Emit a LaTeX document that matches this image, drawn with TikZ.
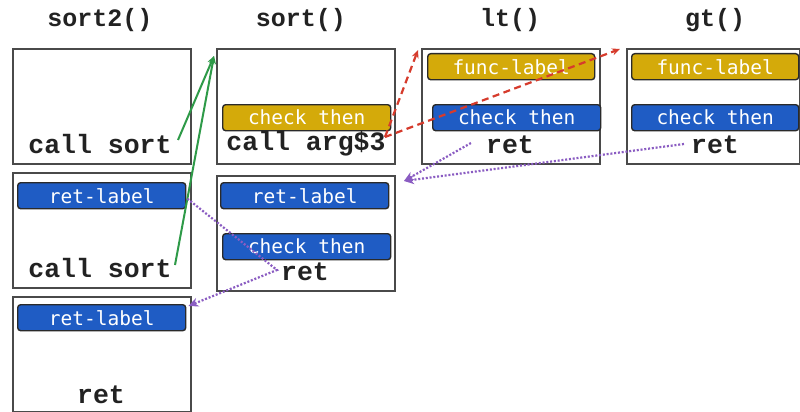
\documentclass[tikz,border=0pt]{standalone}
\usepackage{fontspec}
\usetikzlibrary{arrows.meta}
\newfontfamily\codefam{Liberation Mono}
\newfontfamily\labfam{DejaVu Sans Mono}
\definecolor{boxgray}{HTML}{4A4A4A}
\definecolor{labyellow}{HTML}{D4AA0A}
\definecolor{labblue}{HTML}{1F5CC4}
\definecolor{labedge}{HTML}{2A2A2A}
\definecolor{txt}{HTML}{222222}
\definecolor{grn}{HTML}{2E9A48}
\definecolor{redd}{HTML}{D63B2C}
\definecolor{purp}{HTML}{8A5CC2}
\begin{document}
\begin{tikzpicture}[x=1pt,y=-1pt,
  fbox/.style={draw=boxgray, line width=2pt, minimum width=178pt, minimum height=115pt, anchor=north west, inner sep=0pt},
  lab/.style={draw=labedge, rounded corners=3pt, line width=1.4pt, minimum width=168pt, minimum height=26pt, inner sep=0pt, text=white, font=\labfam\fontsize{19.5}{19.5}\selectfont, anchor=north west},
  ylab/.style={lab, fill=labyellow},
  blab/.style={lab, fill=labblue},
  code/.style={font=\codefam\bfseries\fontsize{26.5}{26.5}\selectfont, text=txt, inner sep=1pt},
  ttl/.style={font=\codefam\bfseries\fontsize{25}{25}\selectfont, text=txt, inner sep=1pt},
  gline/.style={draw=grn, line width=2pt, -{Stealth[length=8pt,width=7pt]}},
  rline/.style={draw=redd, line width=2.2pt, dash pattern=on 7pt off 4.5pt, -{Stealth[length=8pt,width=7pt]}},
  pline/.style={draw=purp, line width=2.2pt, dash pattern=on 2pt off 1.8pt, -{Stealth[length=10pt,width=9pt]}}
]
\useasboundingbox[fill=white] (0,0) rectangle (800,412);

% titles
\node[ttl] (t1) at (100,20) {sort2()};
\node[ttl] (t2) at (301,20) {sort()};
\node[ttl] (t3) at (510,20) {lt()};
\node[ttl] (t4) at (715,20) {gt()};

% frames
\node[fbox] (s2a) at (12,48) {};
\node[fbox] (s2b) at (12,172) {};
\node[fbox] (s2c) at (12,296) {};
\node[fbox] (sa) at (216,48) {};
\node[fbox] (sb) at (216,175) {};
\node[fbox] (lt) at (421,48) {};
\node[fbox, minimum width=173pt] (gt) at (626,48) {};

% labels
\node[ylab] (sachk) at (222,104) {check then};
\node[blab] (rl2) at (17,182) {ret-label};
\node[blab] (rl3) at (17,304) {ret-label};
\node[blab] (sbrl) at (220,182) {ret-label};
\node[blab] (sbchk) at (222,233) {check then};
\node[ylab, minimum width=167pt] (ltfl) at (427,53) {func-label};
\node[blab] (ltchk) at (432,104) {check then};
\node[ylab, minimum width=167pt] (gtfl) at (631,53) {func-label};
\node[blab, minimum width=167pt] (gtchk) at (631,104) {check then};

% code texts
\node[code] (cs1) at (100,144) {call sort};
\node[code] (arg) at (306,144) {call arg\$3};
\node[code] (cs2) at (100,268) {call sort};
\node[code] (r3) at (101,395) {ret};
\node[code] (sret) at (305,272) {ret};
\node[code] (ltret) at (510,145) {ret};
\node[code] (gtret) at (715,145) {ret};

% connector end points
\coordinate (sin) at (214,56);
\coordinate (ltin) at (418,50);
\coordinate (gtin) at (620,49);
\coordinate (sbin) at (404,181);
\coordinate (cs1e) at (178,140);
\coordinate (cs2e) at (175,265);
\coordinate (arge) at (385,137);

% green calls
\draw[gline] (cs1e) -- (sin);
\draw[gline] (cs2e) -- (sin);
% red dashed
\draw[rline] (arge) -- (ltin);
\draw[rline] (arge) -- (gtin);
% purple dotted
\draw[pline] ([xshift=-14pt,yshift=2pt]ltret.west) -- (sbin);
\draw[pline] ([xshift=-6pt,yshift=1pt]gtret.west) -- (sbin);
\draw[pline] ([xshift=1pt,yshift=-3pt]rl2.east) -- ([xshift=-3pt,yshift=2pt]sret.west) -- ([xshift=2pt,yshift=-2pt]rl3.north east);
\end{tikzpicture}
\end{document}
